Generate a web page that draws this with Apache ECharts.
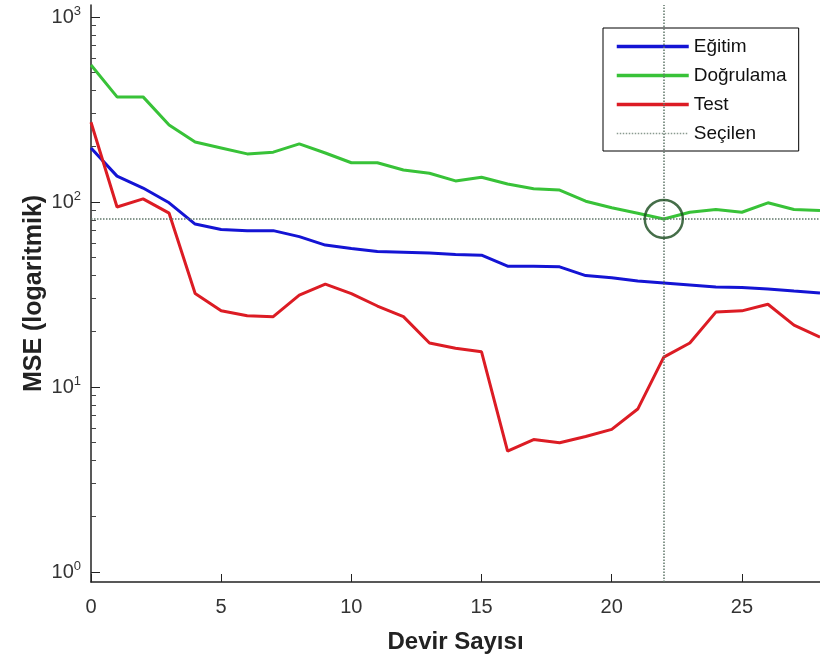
<!DOCTYPE html>
<html>
<head>
<meta charset="utf-8">
<script src="https://cdn.jsdelivr.net/npm/echarts@6/dist/echarts.min.js"></script>
<style>
  html, body { margin: 0; padding: 0; background: #fff; }
  #chart { width: 820px; height: 663px; }
</style>
</head>
<body>
<div id="chart"></div>
<script>
// devir (epoch) numaraları
var epochs = [0, 1, 2, 3, 4, 5, 6, 7, 8, 9, 10, 11, 12, 13, 14, 15, 16, 17, 18, 19, 20, 21, 22, 23, 24, 25, 26, 27, 28];

var egitim = [196, 138, 119, 99, 76, 71, 70, 70, 65, 58.5, 56, 54, 53.5, 53, 52, 51.6, 45, 45, 44.6, 40, 39, 37.4, 36.5, 35.6, 34.7, 34.5, 33.9, 33, 32.2];
var dogrulama = [550, 370, 370, 261, 211, 196, 182, 186, 206, 184, 163, 163, 149, 143, 130, 136, 125, 118, 116, 101, 93, 87, 81, 88, 91, 88, 99, 91, 90];
var test = [270, 94, 104, 87, 32, 25.8, 24.3, 24, 31.4, 36, 32, 27.4, 24, 17.3, 16.2, 15.5, 4.5, 5.2, 5.0, 5.4, 5.9, 7.6, 14.5, 17.3, 25.4, 25.8, 28, 21.6, 18.6];

var selectedEpoch = 22;
var selectedValue = 81;

var xTicks = [0, 5, 10, 15, 20, 25];
var yMajorTicks = [1, 10, 100, 1000];
var yMinorTicks = [2, 3, 4, 5, 6, 7, 8, 9, 20, 30, 40, 50, 60, 70, 80, 90, 200, 300, 400, 500, 600, 700, 800, 900];

var FONT = '"Liberation Sans", Arial, sans-serif';

function pairs(arr) {
    return arr.map(function (v, i) { return [epochs[i], v]; });
}

var yMin = 0.883, yMax = 1161;

var option = {
    animation: false,
    backgroundColor: '#fff',
    grid: { left: 91, right: 0, top: 5, bottom: 81 },
    legend: {
        orient: 'vertical',
        left: 603,
        top: 28,
        padding: [9, 12, 8, 12],
        itemWidth: 72,
        itemHeight: 14,
        itemGap: 10,
        borderColor: '#000',
        borderWidth: 1,
        backgroundColor: '#fff',
        itemStyle: { opacity: 0 },
        textStyle: { fontFamily: FONT, fontSize: 19, lineHeight: 19, color: '#111' },
        data: [
            { name: 'Eğitim', lineStyle: { width: 3.5 } },
            { name: 'Doğrulama', lineStyle: { width: 3.5 } },
            { name: 'Test', lineStyle: { width: 3.5 } },
            { name: 'Seçilen', lineStyle: { width: 1.5 } }
        ]
    },
    xAxis: {
        type: 'value',
        min: 0,
        max: 28,
        interval: 5,
        name: 'Devir Sayısı',
        nameLocation: 'middle',
        nameGap: 48,
        nameTextStyle: { fontFamily: FONT, fontWeight: 'bold', fontSize: 24, color: '#222' },
        axisLine: { onZero: false, lineStyle: { color: '#222', width: 1.5 } },
        axisTick: { inside: true, length: 8, lineStyle: { color: '#222' }, customValues: xTicks },
        axisLabel: { margin: 15, fontFamily: FONT, fontSize: 20, color: '#333', customValues: xTicks },
        splitLine: { show: false }
    },
    yAxis: [{
        type: 'log',
        min: yMin,
        max: yMax,
        name: 'MSE (logaritmik)',
        nameLocation: 'middle',
        nameGap: 44,
        nameMoveOverlap: false,
        nameTextStyle: { fontFamily: FONT, fontWeight: 'bold', fontSize: 25, color: '#222' },
        axisLine: { show: true, lineStyle: { color: '#222', width: 1.5 } },
        axisTick: { inside: true, length: 9, lineStyle: { color: '#222' }, customValues: yMajorTicks },
        axisLabel: {
            margin: 10,
            customValues: yMajorTicks,
            formatter: function (v) {
                return '{b|10}{s|' + Math.round(Math.log10(v)) + '}';
            },
            rich: {
                b: { fontFamily: FONT, fontSize: 20, color: '#333' },
                s: { fontFamily: FONT, fontSize: 13, color: '#333', verticalAlign: 'top', padding: [0, 0, 12, 0] }
            }
        },
        splitLine: { show: false }
    }, {
        type: 'log',
        min: yMin,
        max: yMax,
        position: 'left',
        axisLine: { show: false },
        axisTick: { inside: true, length: 5, lineStyle: { color: '#444' }, customValues: yMinorTicks },
        axisLabel: { show: false },
        splitLine: { show: false }
    }],
    series: [{
        name: 'Eğitim',
        type: 'line',
        symbol: 'none',
        data: pairs(egitim),
        lineStyle: { color: '#1414d4', width: 3 },
        itemStyle: { color: '#1414d4' },
        z: 4
    }, {
        name: 'Doğrulama',
        type: 'line',
        symbol: 'none',
        data: pairs(dogrulama),
        lineStyle: { color: '#38c238', width: 3 },
        itemStyle: { color: '#38c238' },
        z: 4
    }, {
        name: 'Test',
        type: 'line',
        symbol: 'none',
        data: pairs(test),
        lineStyle: { color: '#dc1c24', width: 3 },
        itemStyle: { color: '#dc1c24' },
        z: 4
    }, {
        name: 'Seçilen',
        type: 'line',
        symbol: 'none',
        data: [[selectedEpoch, selectedValue]],
        lineStyle: { color: '#8a9a90', width: 1.5, type: 'dotted' },
        itemStyle: { color: '#8a9a90' },
        z: 3,
        markLine: {
            silent: true,
            symbol: 'none',
            label: { show: false },
            lineStyle: { color: '#5f7568', width: 1.5, type: 'dotted' },
            data: [{ xAxis: selectedEpoch }, { yAxis: selectedValue }]
        }
    }, {
        name: 'secim',
        type: 'scatter',
        symbol: 'circle',
        symbolSize: 38,
        data: [[selectedEpoch, selectedValue]],
        itemStyle: { color: 'rgba(0,0,0,0)', borderColor: '#174a1c', borderWidth: 2.5 },
        z: 5
    }]
};

var chart = echarts.init(document.getElementById('chart'));
chart.setOption(option);
</script>
</body>
</html>
